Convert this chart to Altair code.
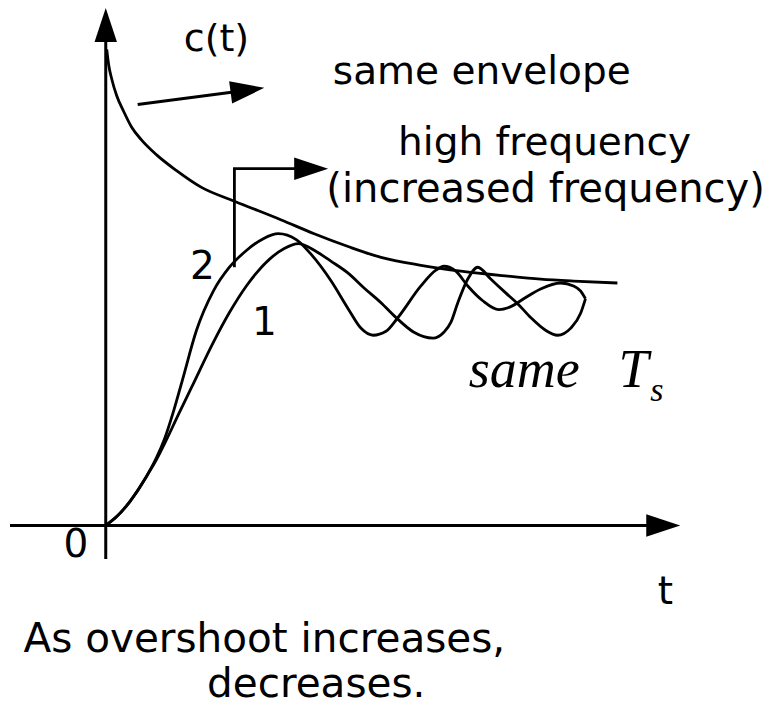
import altair as alt
import pandas as pd

# ---- data (t = time units, c = response units) ----
env_t = [0.01, 0.03, 0.06, 0.11, 0.18, 0.26, 0.36, 0.51, 0.71, 0.96, 1.29, 1.76, 2.09, 2.43, 2.76, 3.16, 3.56, 4.03, 4.36, 4.69, 5.13]
env_c = [4.83, 4.67, 4.53, 4.36, 4.20, 4.04, 3.91, 3.76, 3.60, 3.43, 3.29, 3.10, 2.96, 2.83, 2.72, 2.64, 2.58, 2.53, 2.50, 2.48, 2.46]

c1_t = [0.00, 0.11, 0.24, 0.41, 0.51, 0.59, 0.74, 0.86, 1.08, 1.24, 1.41, 1.64, 1.79, 1.93, 2.11, 2.26, 2.43, 2.59, 2.76, 2.91, 3.09, 3.28, 3.39, 3.46, 3.53, 3.63, 3.73, 3.86, 4.01, 4.13, 4.26, 4.41, 4.53, 4.66, 4.76, 4.81]
c1_c = [0.00, 0.09, 0.24, 0.50, 0.67, 0.83, 1.15, 1.40, 1.86, 2.16, 2.43, 2.70, 2.81, 2.86, 2.78, 2.68, 2.56, 2.41, 2.26, 2.11, 1.96, 1.90, 1.96, 2.06, 2.26, 2.50, 2.62, 2.50, 2.36, 2.25, 2.11, 1.98, 1.93, 2.00, 2.15, 2.30]

c2_t = [0.00, 0.11, 0.24, 0.41, 0.51, 0.59, 0.68, 0.77, 0.91, 1.08, 1.24, 1.41, 1.58, 1.73, 1.91, 2.06, 2.26, 2.43, 2.56, 2.68, 2.81, 2.93, 3.16, 3.31, 3.39, 3.51, 3.63, 3.78, 3.94, 4.06, 4.19, 4.36, 4.56, 4.69, 4.76, 4.81]
c2_c = [0.00, 0.09, 0.24, 0.50, 0.69, 0.88, 1.16, 1.48, 1.98, 2.38, 2.62, 2.79, 2.91, 2.96, 2.90, 2.75, 2.48, 2.20, 2.00, 1.93, 1.97, 2.11, 2.43, 2.59, 2.63, 2.58, 2.43, 2.28, 2.19, 2.22, 2.30, 2.40, 2.46, 2.43, 2.38, 2.30]

# straight segments: axes shafts and arrow shafts
seg_x = [0.00, -0.96, 0.32]
seg_y = [-0.34, 0.00, 4.27]
seg_x2 = [0.00, 5.45, 1.30]
seg_y2 = [4.91, 0.00, 4.40]

# bracket arrow path ("high frequency")
br_t = [1.29, 1.29, 1.94]
br_c = [2.62, 3.62, 3.62]

# arrowheads: tip position and direction (degrees, clockwise)
head_x = [0.00, 5.76, 1.59, 2.23]
head_y = [5.25, 0.00, 4.44, 3.62]
head_angle = [270, 0, 352.4, 0]

# labels
lab_text = ["c(t)", "same envelope", "high frequency", "(increased frequency)", "2", "1", "0", "t",
            "As overshoot increases,", "decreases."]
lab_x = [1.11, 3.77, 4.40, 4.41, 0.97, 1.59, -0.30, 5.61, 1.59, 2.11]
lab_y = [4.81, 4.48, 3.76, 3.28, 2.50, 1.93, -0.32, -0.80, -1.28, -1.745]
lab_size = [38, 39, 39, 40, 39, 39, 39, 39, 40.5, 40.5]

X_DOMAIN = [-0.96, 6.64]
Y_DOMAIN = [-1.73, 5.25]

xs = alt.Scale(domain=X_DOMAIN, nice=False, zero=False)
ys = alt.Scale(domain=Y_DOMAIN, nice=False, zero=False)

rows = []
for name, ts, cs in [("envelope", env_t, env_c), ("1", c1_t, c1_c), ("2", c2_t, c2_c)]:
    for i, (t, c) in enumerate(zip(ts, cs)):
        rows.append({"curve": name, "i": i, "t": t, "c": c})
curves_df = pd.DataFrame(rows)

curves = alt.Chart(curves_df).mark_line(
    color="black", strokeWidth=2.8, interpolate="monotone"
).encode(
    x=alt.X("t:Q", scale=xs, axis=None),
    y=alt.Y("c:Q", scale=ys, axis=None),
    detail="curve:N",
    order="i:Q",
)

seg_df = pd.DataFrame({"x": seg_x, "y": seg_y, "x2": seg_x2, "y2": seg_y2})
segs = alt.Chart(seg_df).mark_rule(color="black", strokeWidth=3).encode(
    x=alt.X("x:Q", scale=xs, axis=None),
    y=alt.Y("y:Q", scale=ys, axis=None),
    x2="x2:Q",
    y2="y2:Q",
)

br_df = pd.DataFrame({"t": br_t, "c": br_c, "i": list(range(len(br_t)))})
bracket = alt.Chart(br_df).mark_line(color="black", strokeWidth=2.8, strokeJoin="miter").encode(
    x=alt.X("t:Q", scale=xs, axis=None),
    y=alt.Y("c:Q", scale=ys, axis=None),
    order="i:Q",
)

head_df = pd.DataFrame({"x": head_x, "y": head_y, "a": head_angle})
heads = alt.Chart(head_df).mark_point(
    shape="M-2,-0.66L0,0L-2,0.66Z", filled=True, size=1156, color="black", opacity=1, strokeWidth=0
).encode(
    x=alt.X("x:Q", scale=xs, axis=None),
    y=alt.Y("y:Q", scale=ys, axis=None),
    angle=alt.Angle("a:Q", scale=None),
)

lab_df = pd.DataFrame({"text": lab_text, "x": lab_x, "y": lab_y, "fs": lab_size})
labels = alt.Chart(lab_df).mark_text(
    font="DejaVu Sans", color="black", align="center", baseline="alphabetic"
).encode(
    x=alt.X("x:Q", scale=xs, axis=None),
    y=alt.Y("y:Q", scale=ys, axis=None),
    text="text:N",
    size=alt.Size("fs:Q", scale=None, legend=None),
)

# italic serif "same T_s"
ts_text = ["same", "T"]
ts_x = [3.64, 5.14]
ts_y = [1.40, 1.40]
ts_df = pd.DataFrame({"text": ts_text, "x": ts_x, "y": ts_y})
ts_main = alt.Chart(ts_df).mark_text(
    font="Liberation Serif", fontStyle="italic", fontSize=54, color="black", align="left", baseline="alphabetic"
).encode(
    x=alt.X("x:Q", scale=xs, axis=None),
    y=alt.Y("y:Q", scale=ys, axis=None),
    text="text:N",
)

sub_df = pd.DataFrame({"text": ["s"], "x": [5.46], "y": [1.26]})
ts_sub = alt.Chart(sub_df).mark_text(
    font="Liberation Serif", fontStyle="italic", fontSize=34, color="black", align="left", baseline="alphabetic"
).encode(
    x=alt.X("x:Q", scale=xs, axis=None),
    y=alt.Y("y:Q", scale=ys, axis=None),
    text="text:N",
)

chart = alt.layer(segs, curves, bracket, heads, labels, ts_main, ts_sub).properties(
    width=760,
    height=698,
    padding=0,
    autosize=alt.AutoSizeParams(type="fit", contains="padding"),
    background="white",
).configure_view(stroke=None)

chart.save("out.html", embed_options={"renderer": "svg", "actions": False})
